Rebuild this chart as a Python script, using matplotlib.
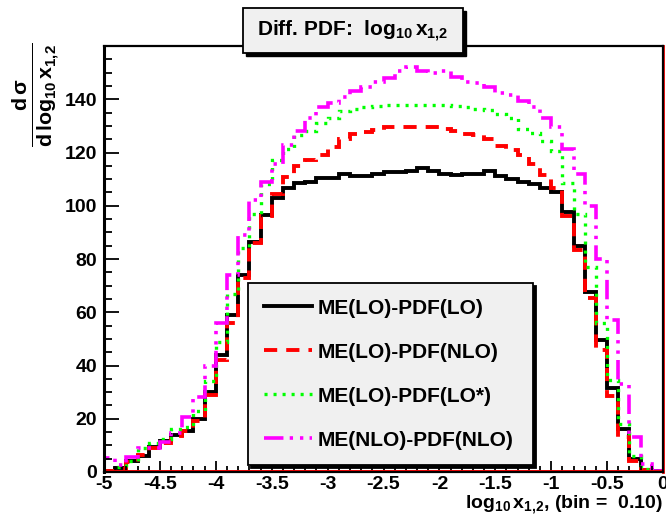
import numpy as np
import matplotlib
matplotlib.use('Agg')
import matplotlib.pyplot as plt
from matplotlib.patches import Rectangle

# histogram bins: log10 x from -5 to 0, width 0.1
edges = np.linspace(-5.0, 0.0, 51)

me_lo_pdf_lo = [0.3, 1.5, 4, 6, 9.5, 11.5, 14, 15.5, 20, 30,
                44, 59, 74, 86.5, 96.5, 103, 106.5, 108.5, 109, 110.5,
                110.5, 111.8, 111, 111, 112, 112.5, 112.5, 113, 114, 113,
                112, 111.5, 112, 112, 113, 111, 110, 109, 108, 106.5,
                105, 97.5, 85, 67.7, 49.5, 31.4, 16, 5, 0.8, 0.3]
me_lo_pdf_nlo = [0.3, 1.3, 3.8, 6.4, 9.2, 11, 13.5, 15.5, 19, 29,
                 42, 56, 73, 86, 96, 104.6, 110.8, 115, 117, 119,
                 122, 125, 126.8, 127.7, 128.4, 129.5, 129.6, 129.6, 129.6, 129.5,
                 129, 128.2, 127, 126.5, 125, 122.5, 121, 119, 115.5, 111.5,
                 106.5, 96, 83.5, 65.5, 46, 28.5, 13, 4, 0.8, 0.3]
me_lo_pdf_lostar = [0.2, 2, 4, 9, 11, 12.5, 16, 17, 23, 34,
                    49, 67, 84, 97, 108, 117, 121.5, 126.5, 128, 131,
                    133, 135.5, 136.5, 137, 137.5, 137.8, 138, 138, 138, 137.8,
                    137.8, 137.5, 137, 136.5, 136, 134.5, 133, 129, 127.5, 124.5,
                    120.5, 108.5, 97, 77, 56, 34.5, 18, 6, 1, 0.3]
me_nlo_pdf_nlo = [5.4, 2.5, 5.5, 8.9, 9, 11.4, 14.6, 20.5, 28.3, 40,
                  56, 74, 89, 102, 109, 115.5, 123, 128, 132.8, 137,
                  138.5, 141, 143, 144.5, 146.5, 148, 150.5, 152, 150.5, 150,
                  150.5, 148.5, 146.5, 146, 144.5, 142.5, 141.5, 139.5, 137, 133,
                  129.5, 121.5, 112, 100, 80, 57, 33, 13, 3, 0.5]

labels = ['ME(LO)-PDF(LO)', 'ME(LO)-PDF(NLO)', 'ME(LO)-PDF(LO*)', 'ME(NLO)-PDF(NLO)']

plt.rcParams['font.family'] = ['Liberation Sans', 'DejaVu Sans']
plt.rcParams['font.weight'] = 'bold'
plt.rcParams['mathtext.fontset'] = 'custom'
plt.rcParams['mathtext.rm'] = 'Liberation Sans:bold'
plt.rcParams['mathtext.it'] = 'Liberation Sans:bold'
plt.rcParams['mathtext.bf'] = 'Liberation Sans:bold'
plt.rcParams['lines.scale_dashes'] = False

W, H = 666, 520
fig = plt.figure(figsize=(W / 100, H / 100), dpi=100)
ax = fig.add_axes([104 / W, 48 / H, 559 / W, 426 / H])

ax.stairs(me_lo_pdf_lo, edges, color='black', lw=2.8, label=labels[0])
ax.stairs(me_lo_pdf_nlo, edges, color='#ff0000', lw=2.8,
          linestyle=(0, (9.5, 6.5)), label=labels[1])
ax.stairs(me_lo_pdf_lostar, edges, color='#00ff00', lw=2.4,
          linestyle=(0, (2.2, 4.3)), label=labels[2])
ax.stairs(me_nlo_pdf_nlo, edges, color='#ff00ff', lw=2.6,
          linestyle=(0, (14, 4.5, 2.4, 5, 2.4, 4.5)), label=labels[3])

# red baseline and right edge left by the histogram drawing
ax.axhline(0.4, color='#ff0000', lw=1.4)
ax.axvline(0.0, color='#ff0000', lw=2.0, clip_on=False)

ax.set_xlim(-5, 0)
ax.set_ylim(0, 160)
ax.set_xticks(np.arange(-5, 0.01, 0.5))
ax.set_xticklabels(['-5', '-4.5', '-4', '-3.5', '-3', '-2.5', '-2', '-1.5', '-1', '-0.5', '0'])
ax.set_xticks(np.arange(-5, 0.01, 0.1), minor=True)
ax.set_yticks(np.arange(0, 141, 20))
ax.set_yticks(np.arange(0, 160, 5), minor=True)

ax.tick_params(axis='both', which='both', direction='in', top=False, right=False,
               labelsize=14, width=1.3)
ax.tick_params(axis='x', which='major', length=8, pad=3)
ax.tick_params(axis='x', which='minor', length=4)
ax.tick_params(axis='y', which='major', length=11, pad=5)
ax.tick_params(axis='y', which='minor', length=6)
for lab in ax.get_xticklabels() + ax.get_yticklabels():
    lab.set_fontweight('bold')
for s in ax.spines.values():
    s.set_linewidth(1.6)
ax.spines['left'].set_linewidth(2.2)

leg = ax.legend(loc='upper left', bbox_to_anchor=(144 / 559, 0.0, 285 / 559, 189 / 426),
                mode='expand', fontsize=15, handlelength=2.3, handletextpad=0.3,
                labelspacing=1.2, borderpad=0.75, borderaxespad=0.0,
                fancybox=False, framealpha=1, shadow={'color': 'black', 'alpha': 1})
leg.get_frame().set_facecolor('#f0f0f0')
leg.get_frame().set_edgecolor('black')
leg.get_frame().set_linewidth(1.3)
for t in leg.get_texts():
    t.set_fontweight('bold')

# title box with shadow
fig.patches.append(Rectangle((246 / W, 1 - 56 / H), 220 / W, 45 / H,
                             transform=fig.transFigure, facecolor='black',
                             edgecolor='black', zorder=5))
fig.patches.append(Rectangle((243 / W, 1 - 53 / H), 220 / W, 45 / H,
                             transform=fig.transFigure, facecolor='#f0f0f0',
                             edgecolor='black', lw=1.3, zorder=6))
fig.text(353 / W, 1 - 31 / H, r'Diff. PDF:  $\log_{10}x_{1{,}2}$', ha='center', va='center',
         fontsize=15, fontweight='bold', zorder=7)

fig.text(35 / W, 1 - 95 / H, r'$\frac{d\,\sigma}{d\,\log_{10}x_{1{,}2}}$', rotation=90,
         ha='center', va='center', fontsize=22)

fig.text(663 / W, 1 - 509 / H, r'$\log_{10}x_{1{,}2}$, (bin =  0.10)', ha='right',
         va='baseline', fontsize=14, fontweight='bold')

fig.savefig('out.png', dpi=100)
